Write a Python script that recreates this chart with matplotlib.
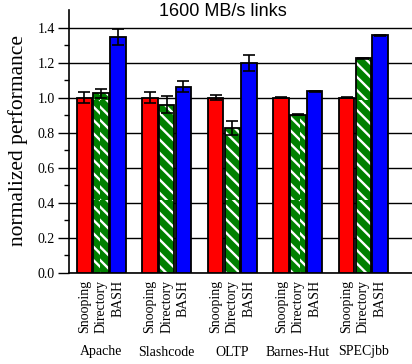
import numpy as np
import matplotlib.pyplot as plt
import matplotlib.hatch as mhatch
import matplotlib.transforms as mtransforms

# values
benchmarks = ['Apache', 'Slashcode', 'OLTP', 'Barnes-Hut', 'SPECjbb']
protocols = ['Snooping', 'Directory', 'BASH']
snooping = [1.0, 1.0, 1.0, 1.0, 1.0]
directory = [1.025, 0.96, 0.827, 0.903, 1.224]
bash = [1.345, 1.063, 1.197, 1.036, 1.356]
snooping_err = [0.03, 0.033, 0.013, 0.003, 0.003]
directory_err = [0.027, 0.047, 0.04, 0.003, 0.003]
bash_err = [0.045, 0.03, 0.045, 0.003, 0.003]

# stripe spacing: the built-in '\\\\' hatch is too sparse, use 15 lines per tile
_se_init = mhatch.SouthEastHatch.__init__
def _sparse_se(self, hatch, density):
    _se_init(self, hatch, density)
    if self.num_lines:
        self.num_lines = 15
        self.num_vertices = (self.num_lines + 1) * 2
mhatch.SouthEastHatch.__init__ = _sparse_se

plt.rcParams['hatch.linewidth'] = 1.7
plt.rcParams['font.family'] = 'Liberation Serif'

fig = plt.figure(figsize=(4.12, 3.64), dpi=100)
ax = fig.add_axes([0.1675, 0.25, 0.8325, 0.7225])

x = np.arange(len(benchmarks))
step = 0.255
width = 0.236
err_kw = dict(ecolor='black', elinewidth=1.2, capsize=4, capthick=1.2)

ax.bar(x - step, snooping, width, color='#ff0000', edgecolor='black',
       linewidth=1.3, zorder=3, yerr=snooping_err, error_kw=err_kw)
# hatched bar: white stripes first, then black outline on top
ax.bar(x, directory, width, color='#008000', edgecolor='white',
       hatch='\\\\', linewidth=0, zorder=3)
ax.bar(x, directory, width, color='none', edgecolor='black',
       linewidth=1.3, zorder=4, yerr=directory_err, error_kw=err_kw)
ax.bar(x + step, bash, width, color='#0000ff', edgecolor='black',
       linewidth=1.3, zorder=3, yerr=bash_err, error_kw=err_kw)

ax.set_xlim(-0.49, 4.74)
ax.set_ylim(0, 1.5)
ax.set_yticks(np.arange(0, 1.41, 0.2))
ax.set_yticks(np.arange(0.1, 1.41, 0.2), minor=True)
ax.set_yticklabels(['%.1f' % v for v in np.arange(0, 1.41, 0.2)], fontsize=10)
ax.yaxis.grid(True, color='black', linewidth=1.0, zorder=0)
ax.set_axisbelow(True)
ax.tick_params(axis='y', which='major', length=8, width=1, pad=2)
ax.tick_params(axis='y', which='minor', length=3.5, width=1)

for s in ['top', 'right']:
    ax.spines[s].set_visible(False)
ax.spines['left'].set_linewidth(1.2)
ax.spines['bottom'].set_linewidth(1.2)

# per-bar protocol labels under the axis
pos = np.concatenate([x - step, x, x + step])
labs = [protocols[0]] * 5 + [protocols[1]] * 5 + [protocols[2]] * 5
ax.set_xticks(pos)
ax.set_xticklabels(labs, rotation=90, fontsize=10, va='top')
ax.tick_params(axis='x', length=0, pad=5)

trans = mtransforms.blended_transform_factory(ax.transData, fig.transFigure)
for xi, name in zip(x, benchmarks):
    ax.text(xi, 1 - 352 / 364, name, transform=trans, ha='center',
            va='center', fontsize=10)

fig.text(18 / 412, 1 - 141 / 364, 'normalized performance', rotation=90,
         ha='center', va='center', fontsize=15.5)
fig.text(0.54, 1 - 12 / 364, '1600 MB/s links', ha='center', va='center',
         fontsize=13, family='Liberation Sans')

fig.savefig('out.png', dpi=100)
